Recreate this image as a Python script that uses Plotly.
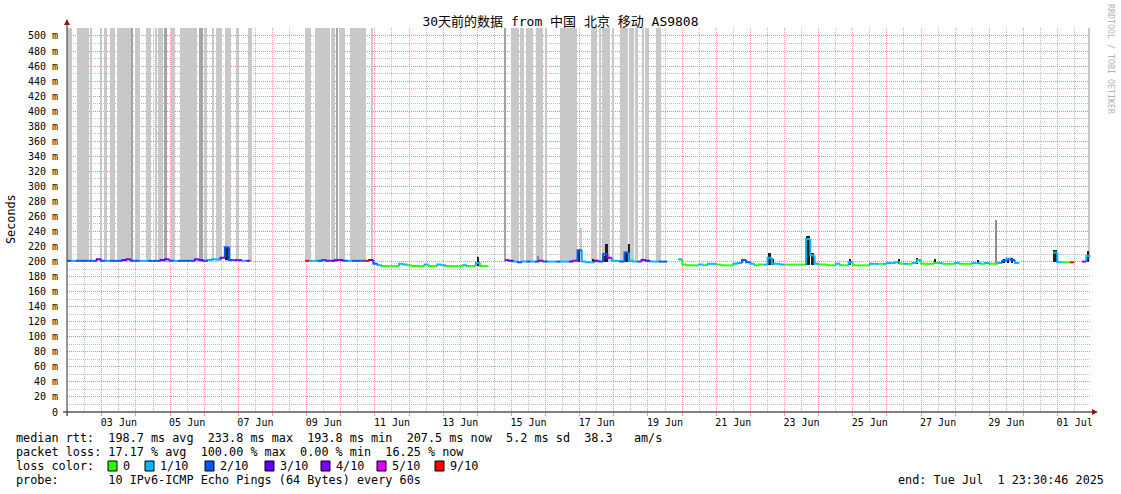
import plotly.graph_objects as go
from datetime import datetime, timedelta

# ---------------- data ----------------
START = datetime(2025, 6, 1, 23, 30, 46)
END = datetime(2025, 7, 1, 23, 30, 46)
STEP_H = 3  # hours per consolidated sample

TITLE = "30天前的数据 from 中国 北京 移动 AS9808"

# data segments (hour offset of first sample from START)
SEG_START_H = [0.0, 167.4, 308.0, 429.6, 693.3, 713.7]

MEDIAN_1 = [201, 201, 201, 201, 201, 201, 201, 203, 201, 201, 201, 201, 201, 202, 203,
            201, 201, 201, 201, 201, 201, 201, 202, 203, 201, 201, 201, 201, 201, 201,
            203, 202, 201, 202, 203, 203, 205, 219, 202, 202, 202, 201, 201]
LOSS_1 = [2, 1, 2, 2, 2, 2, 2, 3, 2, 1, 2, 2, 2, 3, 4, 2, 2, 1, 1, 2, 2, 2, 3, 4, 2, 1,
          2, 2, 2, 2, 4, 3, 2, 1, 1, 1, 3, 2, 2, 4, 4, 1, 4]

MEDIAN_2 = [201, 201, 201, 201, 202, 201, 201, 202, 202, 201, 201, 201, 201, 201, 201,
            202, 197, 195, 194, 194, 194, 194, 197, 196, 195, 194, 194, 194, 196, 194,
            194, 196, 195, 194, 194, 194, 194, 195, 194, 194, 198, 194, 194]
LOSS_2 = [9, 1, 1, 2, 2, 4, 3, 4, 3, 2, 1, 2, 2, 2, 9, 3, 2, 1, 0, 0, 0, 0, 1, 1, 0, 0,
          0, 0, 1, 0, 0, 1, 1, 0, 0, 0, 0, 1, 0, 0, 1, 0, 0]

MEDIAN_3 = [202, 201, 200, 199, 200, 200, 200, 200, 201, 200, 200, 200, 200, 200, 200,
            200, 201, 215, 200, 199, 199, 201, 200, 210, 205, 201, 201, 200, 212, 201,
            200, 200, 202, 201, 200, 200, 200, 200]
LOSS_3 = [4, 3, 1, 2, 1, 2, 1, 2, 4, 2, 1, 1, 2, 1, 1, 3, 4, 2, 1, 1, 1, 3, 2, 2, 4, 1,
          1, 2, 2, 1, 1, 2, 4, 3, 1, 1, 2, 2]

MEDIAN_4 = [203, 196, 195, 195, 195, 196, 195, 197, 197, 196, 195, 195, 195, 197, 198,
            202, 199, 197, 195, 196, 196, 205, 197, 197, 196, 196, 196, 196, 196, 196,
            230, 208, 197, 196, 196, 195, 195, 197, 195, 195, 199, 195, 195, 195, 195,
            197, 197, 197, 197, 198, 198, 199, 197, 197, 197, 198, 202, 197, 197, 197,
            198, 198, 197, 197, 197, 198, 197, 197, 197, 198, 198, 197, 198, 197, 197,
            198, 201, 204, 202, 198]
LOSS_4 = [1, 0, 0, 0, 0, 1, 0, 1, 1, 0, 0, 0, 0, 1, 1, 2, 2, 1, 0, 0, 1, 1, 1, 1, 1, 0,
          0, 0, 0, 0, 1, 1, 1, 0, 0, 0, 0, 1, 0, 0, 1, 0, 0, 0, 0, 1, 1, 0, 1, 1, 1, 1,
          0, 1, 0, 1, 1, 0, 0, 0, 0, 1, 0, 0, 0, 1, 0, 0, 0, 1, 1, 0, 1, 0, 0, 1, 2, 1,
          2, 1]

MEDIAN_5 = [212, 199, 199, 199, 199]
LOSS_5 = [1, 1, 0, 0, 9]

MEDIAN_6 = [200, 207.5]
LOSS_6 = [4, 1]

MEDIANS = [MEDIAN_1, MEDIAN_2, MEDIAN_3, MEDIAN_4, MEDIAN_5, MEDIAN_6]
LOSSES = [LOSS_1, LOSS_2, LOSS_3, LOSS_4, LOSS_5, LOSS_6]

# full-height smoke (hour offsets start/end, shade 0=light 1=dark)
SMOKE_START = [0.0, 7.0, 16.2, 23.2, 26.0, 30.9, 32.3, 35.2, 45.0, 47.8, 55.5, 61.9, 64.0,
               68.9, 73.1, 79.5, 92.8, 97.0, 102.0, 104.8, 111.1, 119.5, 127.3,
               167.3, 174.4, 185.6, 189.8, 191.3, 199.0, 213.8,
               307.3, 312.2, 317.1, 318.5, 322.7, 329.8, 331.2, 336.1, 346.6, 368.4,
               374.1, 376.2, 383.2, 388.8, 395.2, 399.4, 404.3, 406.4, 414.2, 718.3]
SMOKE_END = [3.5, 15.5, 17.6, 24.6, 28.1, 31.6, 33.7, 45.0, 46.1, 51.3, 59.1, 63.3, 67.5,
             70.3, 75.9, 91.4, 95.6, 98.4, 102.7, 109.0, 115.3, 120.9, 130.1,
             171.6, 184.9, 188.4, 190.5, 195.5, 210.2, 215.2,
             308.7, 316.4, 317.8, 321.3, 327.7, 330.5, 334.7, 337.5, 358.6, 372.7,
             375.5, 381.8, 384.6, 394.4, 398.7, 401.5, 405.7, 409.2, 417.7, 719.2]
SMOKE_SHADE = [0, 0, 0, 0, 0, 0, 0, 0, 1, 0, 0, 0, 0,
               1, 0, 0, 1, 0, 0, 0, 0, 0, 0,
               0, 0, 0, 1, 0, 0, 0,
               1, 0, 0, 0, 0, 0, 0, 0, 0, 0,
               0, 0, 0, 0, 0, 0, 0, 0, 0, 0]
SMOKE_LOW = 200
SMOKE_HIGH = 560

# narrow smoke spikes (centre hour, duration hours, low ms, high ms, shade 2=black 3=mid 0=light)
SPIKE_H = [112.5, 289.0, 331.2, 360.5, 361.7, 370.2, 377.5, 379.5, 393.5, 395.2,
           494.1, 496.4, 521.1, 524.1, 550.5, 585.0, 597.7, 610.3, 640.5, 653.2,
           658.8, 662.0, 664.5, 694.7, 718.0]
SPIKE_DUR = [2.4, 1.3, 1.0, 2.4, 1.0, 1.3, 1.3, 2.2, 2.4, 1.3,
             2.4, 1.3, 2.6, 2.4, 1.3, 1.3, 1.3, 1.3, 1.3, 1.0,
             1.3, 1.3, 1.3, 2.2, 1.6]
SPIKE_LO = [202, 194, 200, 200, 200, 199, 200, 200, 200, 200,
            196, 196, 196, 196, 195, 197, 197, 197, 197, 197,
            198, 198, 198, 199, 200]
SPIKE_HI = [219, 206, 207, 215, 245, 203, 207, 223, 212, 223,
            211, 203, 234, 212, 203, 203, 205, 203, 202, 255,
            203, 205, 205, 215, 214]
SPIKE_SHADE = [2, 2, 3, 2, 0, 2, 2, 2, 2, 2,
               2, 2, 2, 2, 2, 2, 2, 2, 2, 3,
               2, 2, 2, 2, 2]

LOSS_LEVELS = [0, 1, 2, 3, 4, 5, 9]
LOSS_LABELS = ["0", "1/10", "2/10", "3/10", "4/10", "5/10", "9/10"]
LOSS_COLORS = ["#26ff00", "#00b8ff", "#0059ff", "#5e00ff", "#7e00ff", "#dd00ff", "#ff0000"]

Y_TICK_VALS = [0, 20, 40, 60, 80, 100, 120, 140, 160, 180, 200, 220, 240, 260, 280, 300,
               320, 340, 360, 380, 400, 420, 440, 460, 480, 500]
Y_TICK_LABELS = ["0", "20 m", "40 m", "60 m", "80 m", "100 m", "120 m", "140 m", "160 m",
                 "180 m", "200 m", "220 m", "240 m", "260 m", "280 m", "300 m", "320 m",
                 "340 m", "360 m", "380 m", "400 m", "420 m", "440 m", "460 m", "480 m",
                 "500 m"]
X_TICK_DATES = ["2025-06-03 12:00", "2025-06-05 12:00", "2025-06-07 12:00", "2025-06-09 12:00",
                "2025-06-11 12:00", "2025-06-13 12:00", "2025-06-15 12:00", "2025-06-17 12:00",
                "2025-06-19 12:00", "2025-06-21 12:00", "2025-06-23 12:00", "2025-06-25 12:00",
                "2025-06-27 12:00", "2025-06-29 12:00", "2025-07-01 12:00"]
X_TICK_LABELS = ["03 Jun", "05 Jun", "07 Jun", "09 Jun", "11 Jun", "13 Jun", "15 Jun",
                 "17 Jun", "19 Jun", "21 Jun", "23 Jun", "25 Jun", "27 Jun", "29 Jun", "01 Jul"]
Y_MAX = 510.6

RTT_STATS = [198.7, 233.8, 193.8, 207.5, 5.2]   # avg, max, min, now, sd
AM_S = 38.3
LOSS_STATS = [17.17, 100.00, 0.00, 16.25]      # avg, max, min, now
PROBE_TEXT = "10 IPv6-ICMP Echo Pings (64 Bytes) every 60s"
END_TEXT = "end: Tue Jul  1 23:30:46 2025"

# ---------------- layout helpers ----------------
FW, FH = 1121, 494
L, T, W, H = 67, 28, 1024, 384          # plot area in pixels
MONO = "DejaVu Sans Mono, Noto Sans CJK SC, monospace"


def px(x):
    return (x - L) / W


def py(y):
    return (T + H - y) / H


def nb(s):
    return s.replace(" ", "\u00a0")


def at(h):
    return START + timedelta(hours=h)


fig = go.Figure()

# smoke bars
shade_col = {0: "#c8c8c8", 1: "#a4a4a4", 2: "#202020", 3: "#8c8c8c"}
fig.add_trace(go.Bar(
    x=[at((s + e) / 2) for s, e in zip(SMOKE_START, SMOKE_END)],
    y=[SMOKE_HIGH - SMOKE_LOW] * len(SMOKE_START),
    base=[SMOKE_LOW] * len(SMOKE_START),
    width=[(e - s) * 3600 * 1000 for s, e in zip(SMOKE_START, SMOKE_END)],
    marker=dict(color=[shade_col[c] for c in SMOKE_SHADE], line=dict(width=0)),
    showlegend=False, hoverinfo="skip"))

fig.add_trace(go.Bar(
    x=[at(h) for h in SPIKE_H],
    y=[hi - lo for lo, hi in zip(SPIKE_LO, SPIKE_HI)],
    base=SPIKE_LO,
    width=[d * 3600 * 1000 for d in SPIKE_DUR],
    marker=dict(color=[shade_col[c] for c in SPIKE_SHADE], line=dict(width=0)),
    showlegend=False, hoverinfo="skip"))

# median line coloured by loss
pts = {lv: ([], []) for lv in LOSS_LEVELS}
for s0, med, loss in zip(SEG_START_H, MEDIANS, LOSSES):
    for i, (m, lv) in enumerate(zip(med, loss)):
        t0 = at(s0 + i * STEP_H)
        t1 = at(s0 + (i + 1) * STEP_H)
        prev = med[i - 1] if i > 0 else m
        xs, ys = pts[lv]
        xs += [t0, t0, t1, None]
        ys += [prev, m, m, None]
for lv, col in zip(LOSS_LEVELS, LOSS_COLORS):
    xs, ys = pts[lv]
    if xs:
        fig.add_trace(go.Scatter(x=xs, y=ys, mode="lines",
                                 line=dict(color=col, width=2),
                                 showlegend=False, hoverinfo="skip"))

# invisible trace on label axis
fig.add_trace(go.Scatter(x=[START, END], y=[None, None], xaxis="x2", yaxis="y",
                         showlegend=False, hoverinfo="skip"))

MAJ = "rgba(235,120,120,0.75)"
MIN = "rgba(170,170,170,0.75)"
DASH = "1px,1px"

fig.update_layout(
    width=FW, height=FH,
    margin=dict(l=L, r=FW - L - W, t=T, b=FH - T - H, pad=0, autoexpand=False),
    paper_bgcolor="white", plot_bgcolor="white",
    barmode="overlay", bargap=0,
    font=dict(family=MONO, size=10, color="black"),
    title=dict(text=TITLE, x=560.5 / FW, xref="container", xanchor="center",
               y=1 - 21 / FH, yref="container", yanchor="middle",
               font=dict(family=MONO, size=13, color="black")),
    xaxis=dict(type="date", range=[START, END], showticklabels=False,
               tick0="2025-06-02 00:00", dtick=86400000,
               showgrid=True, gridcolor=MAJ, griddash=DASH, gridwidth=1,
               ticks="outside", ticklen=3, tickcolor=MAJ,
               minor=dict(dtick=43200000, tick0="2025-06-02 00:00", showgrid=True,
                          gridcolor=MIN, griddash=DASH, gridwidth=1),
               showline=False, zeroline=False, fixedrange=True),
    xaxis2=dict(type="date", range=[START, END], overlaying="x", anchor="y", side="bottom",
                tickmode="array", tickvals=X_TICK_DATES, ticktext=X_TICK_LABELS,
                showgrid=False, ticks="", showline=False, zeroline=False,
                ticklabelstandoff=3,
                tickfont=dict(family=MONO, size=10, color="black")),
    yaxis=dict(range=[0, Y_MAX], tickmode="array", tickvals=Y_TICK_VALS,
               ticktext=Y_TICK_LABELS, showgrid=True, gridcolor=MAJ, griddash=DASH,
               minor=dict(dtick=10, tick0=0, showgrid=True, gridcolor=MIN, griddash=DASH),
               ticks="", ticklabelstandoff=8, zeroline=False, showline=False,
               tickfont=dict(family=MONO, size=10, color="black"), fixedrange=True),
)

shapes = []
# axis lines and arrows
shapes.append(dict(type="line", xref="paper", yref="paper", x0=px(63), x1=px(1094),
                   y0=py(412), y1=py(412), line=dict(color="black", width=1)))
shapes.append(dict(type="line", xref="paper", yref="paper", x0=px(67), x1=px(67),
                   y0=py(416), y1=py(24), line=dict(color="#303030", width=1)))
shapes.append(dict(type="path", xref="paper", yref="paper",
                   path=f"M {px(64)},{py(25)} L {px(70)},{py(25)} L {px(67)},{py(19)} Z",
                   fillcolor="#8b1a1a", line=dict(width=0)))
shapes.append(dict(type="path", xref="paper", yref="paper",
                   path=f"M {px(1092)},{py(409)} L {px(1092)},{py(415)} L {px(1098)},{py(412)} Z",
                   fillcolor="#8b1a1a", line=dict(width=0)))

# legend
BOX_X = [108, 145, 205, 265, 321, 377, 435]
for bx, col, lab in zip(BOX_X, LOSS_COLORS, LOSS_LABELS):
    shapes.append(dict(type="rect", xref="paper", yref="paper",
                       x0=px(bx), x1=px(bx + 9), y0=py(471), y1=py(461),
                       fillcolor=col, line=dict(color="black", width=1)))

fig.update_layout(shapes=shapes)

LEG = 11.8
line1 = (f"median rtt:  {RTT_STATS[0]:.1f} ms avg  {RTT_STATS[1]:.1f} ms max  "
         f"{RTT_STATS[2]:.1f} ms min  {RTT_STATS[3]:.1f} ms now  {RTT_STATS[4]:.1f} ms sd  "
         f"{AM_S:.1f}   am/s")
line2 = (f"packet loss: {LOSS_STATS[0]:.2f} % avg  {LOSS_STATS[1]:.2f} % max  "
         f"{LOSS_STATS[2]:.2f} % min  {LOSS_STATS[3]:.2f} % now")
line3 = "loss color:"
line4 = "probe:       " + PROBE_TEXT

ann = []
for txt, yy in [(line1, 438), (line2, 452), (line3, 466), (line4, 480)]:
    ann.append(dict(text=nb(txt), x=px(14), y=py(yy), xref="paper", yref="paper",
                    xanchor="left", yanchor="middle", showarrow=False,
                    font=dict(family=MONO, size=LEG, color="black")))
for bx, lab in zip(BOX_X, LOSS_LABELS):
    ann.append(dict(text=lab, x=px(bx + 13), y=py(466), xref="paper", yref="paper",
                    xanchor="left", yanchor="middle", showarrow=False,
                    font=dict(family=MONO, size=LEG, color="black")))
ann.append(dict(text=nb(END_TEXT), x=px(1106), y=py(480), xref="paper", yref="paper",
                xanchor="right", yanchor="middle", showarrow=False,
                font=dict(family=MONO, size=LEG, color="black")))
ann.append(dict(text="Seconds", x=px(11), y=py(219), xref="paper", yref="paper",
                xanchor="center", yanchor="middle", textangle=-90, showarrow=False,
                font=dict(family=MONO, size=LEG, color="black")))
ann.append(dict(text=nb("RRDTOOL / TOBI OETIKER"), x=px(1111), y=py(59), xref="paper",
                yref="paper", xanchor="center", yanchor="middle", textangle=90,
                showarrow=False, font=dict(family=MONO, size=8.3, color="#b4b4b4")))
fig.update_layout(annotations=ann)

# remove the default 8px page margin so the figure sits at the window origin
fig.write_html("out.html", include_plotlyjs=True, config={"displayModeBar": False},
               post_script="document.body.style.margin='0';"
                           "document.body.style.padding='0';")
